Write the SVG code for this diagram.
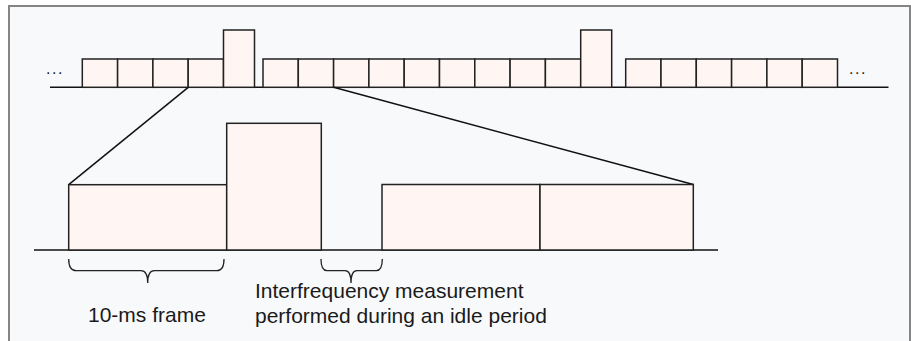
<svg xmlns="http://www.w3.org/2000/svg" width="911" height="341" viewBox="0 0 911 341">
  <style>
    .bg { fill: #f8f9fb; stroke: #858585; stroke-width: 2; }
    .box { fill: #fff5f2; stroke: #222; stroke-width: 1.5; }
    .line { fill: none; stroke: #111; stroke-width: 1.5; }
    .brace { fill: none; stroke: #222; stroke-width: 1.3; }
    .lbl { font-family: "Liberation Sans", Arial, sans-serif; font-size: 21px; fill: #1a1a1a; }
    .dots { font-family: "Liberation Sans", Arial, sans-serif; font-size: 16px; fill: #222; letter-spacing: 1.5px; }
  </style>
  <rect class="bg" x="9" y="6" width="901" height="345"/>

  <g id="timeline-top">
    <line class="line" x1="50" y1="87.3" x2="888.5" y2="87.3"/>
    <text class="dots" x="46" y="74">...</text>
    <text class="dots" x="849" y="74">...</text>
  </g>

  <g id="frames-group1">
    <rect class="box" x="82.3" y="59" width="35.3" height="28.3"/>
    <rect class="box" x="117.6" y="59" width="35.3" height="28.3"/>
    <rect class="box" x="152.9" y="59" width="35.3" height="28.3"/>
    <rect class="box" x="188.2" y="59" width="35.3" height="28.3"/>
    <rect class="box" x="223.5" y="30" width="31" height="57.3"/>
  </g>

  <g id="frames-group2">
    <rect class="box" x="263" y="59" width="35.3" height="28.3"/>
    <rect class="box" x="298.3" y="59" width="35.3" height="28.3"/>
    <rect class="box" x="333.6" y="59" width="35.3" height="28.3"/>
    <rect class="box" x="368.9" y="59" width="35.3" height="28.3"/>
    <rect class="box" x="404.2" y="59" width="35.3" height="28.3"/>
    <rect class="box" x="439.5" y="59" width="35.3" height="28.3"/>
    <rect class="box" x="474.8" y="59" width="35.3" height="28.3"/>
    <rect class="box" x="510.1" y="59" width="35.3" height="28.3"/>
    <rect class="box" x="545.4" y="59" width="35.3" height="28.3"/>
    <rect class="box" x="580.7" y="30" width="31" height="57.3"/>
  </g>

  <g id="frames-group3">
    <rect class="box" x="625.7" y="59" width="35.3" height="28.3"/>
    <rect class="box" x="661" y="59" width="35.3" height="28.3"/>
    <rect class="box" x="696.3" y="59" width="35.3" height="28.3"/>
    <rect class="box" x="731.6" y="59" width="35.3" height="28.3"/>
    <rect class="box" x="766.9" y="59" width="35.3" height="28.3"/>
    <rect class="box" x="802.2" y="59" width="35.3" height="28.3"/>
  </g>

  <g id="connectors">
    <line class="line" x1="188.2" y1="87.3" x2="68.7" y2="184.7"/>
    <line class="line" x1="333.6" y1="87.3" x2="693.3" y2="184.5"/>
  </g>

  <g id="timeline-bottom">
    <line class="line" x1="34" y1="250" x2="718" y2="250"/>
  </g>

  <g id="frame-a">
    <rect class="box" x="68.7" y="184.7" width="158" height="65.3"/>
  </g>
  <g id="frame-tall">
    <rect class="box" x="226.7" y="123.3" width="94.6" height="126.7"/>
  </g>
  <g id="frame-b">
    <rect class="box" x="382" y="184.5" width="158" height="65.5"/>
  </g>
  <g id="frame-c">
    <rect class="box" x="540" y="184.5" width="153.3" height="65.5"/>
  </g>

  <g id="brace-frame">
    <path class="brace" d="M68.7,259 Q68.7,270.7 76,270.7 L141,270.7 Q147.7,270.7 147.7,283 Q147.7,270.7 154.4,270.7 L217,270.7 Q224,270.7 224,259"/>
    <text class="lbl" x="88" y="322">10-ms frame</text>
  </g>

  <g id="brace-idle">
    <path class="brace" d="M321,259 Q321,270.7 327,270.7 L345,270.7 Q351,270.7 351,283 Q351,270.7 357,270.7 L376.3,270.7 Q382.3,270.7 382.3,259"/>
    <text class="lbl" x="255" y="298">Interfrequency measurement</text>
    <text class="lbl" x="255" y="322.5">performed during an idle period</text>
  </g>
</svg>
